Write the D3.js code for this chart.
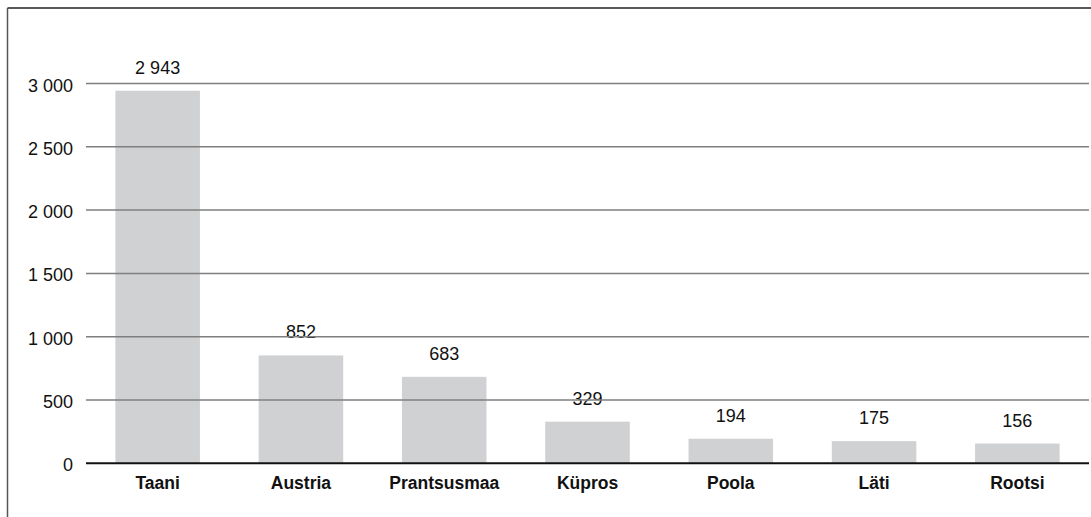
<!DOCTYPE html>
<html><head><meta charset="utf-8">
<script src="https://cdn.jsdelivr.net/npm/d3@7"></script>
<style>body{margin:0;background:#fff}svg{display:block}</style>
</head><body>
<script>
const categories = ["Taani","Austria","Prantsusmaa","Küpros","Poola","Läti","Rootsi"];
const values = [2943,852,683,329,194,175,156];
const yTicks = [0,500,1000,1500,2000,2500,3000];

const W = 1091, H = 517;
const svg = d3.select("body").append("svg").attr("width",W).attr("height",H);
const fmt = v => d3.format(",")(v).replace(/,/g," ");

// frame
svg.append("line").attr("x1",7.5).attr("x2",W).attr("y1",8).attr("y2",8).attr("stroke","#222").attr("stroke-width",1.5);
svg.append("line").attr("x1",7.5).attr("x2",7.5).attr("y1",8).attr("y2",H).attr("stroke","#555").attr("stroke-width",1.5);

const left = 86, right = 1089;
const x = d3.scaleBand().domain(categories).range([left,right]).paddingInner(0.41).paddingOuter(0.205);
const y = d3.scaleLinear().domain([0,3000]).range([463.3,83.5]);

const font = "Liberation Sans, Arial, sans-serif";

// bars
svg.append("g").selectAll("rect").data(values).join("rect")
  .attr("x",(d,i)=>x(categories[i])).attr("width",x.bandwidth())
  .attr("y",d=>y(d)).attr("height",d=>y(0)-y(d)).attr("fill","#d0d1d3");

// value labels
svg.append("g").selectAll("text").data(values).join("text")
  .attr("x",(d,i)=>x(categories[i])+x.bandwidth()/2).attr("y",d=>y(d)-17)
  .attr("text-anchor","middle").attr("font-family",font).attr("font-size",18).attr("fill","#111")
  .text(fmt);

// gridlines
svg.append("g").selectAll("line").data(yTicks.filter(t=>t>0)).join("line")
  .attr("x1",left).attr("x2",right).attr("y1",d=>y(d)).attr("y2",d=>y(d))
  .attr("stroke","#7f7f7f").attr("stroke-width",1.5);

// baseline axis
svg.append("line").attr("x1",left).attr("x2",right).attr("y1",y(0)).attr("y2",y(0)).attr("stroke","#111").attr("stroke-width",2);

// y tick labels
svg.append("g").selectAll("text").data(yTicks).join("text")
  .attr("x",73).attr("y",d=>y(d)+8).attr("text-anchor","end")
  .attr("font-family",font).attr("font-size",18).attr("fill","#111").text(fmt);

// x labels
const xAxis = d3.axisBottom(x).tickSize(0).tickPadding(0);
const gx = svg.append("g").attr("transform",`translate(0,${y(0)})`).call(xAxis);
gx.select(".domain").remove();
gx.selectAll("text").attr("dy",null).attr("y",26).attr("font-family",font).attr("font-size",17.5).attr("font-weight","bold").attr("fill","#111");
</script>
</body></html>
